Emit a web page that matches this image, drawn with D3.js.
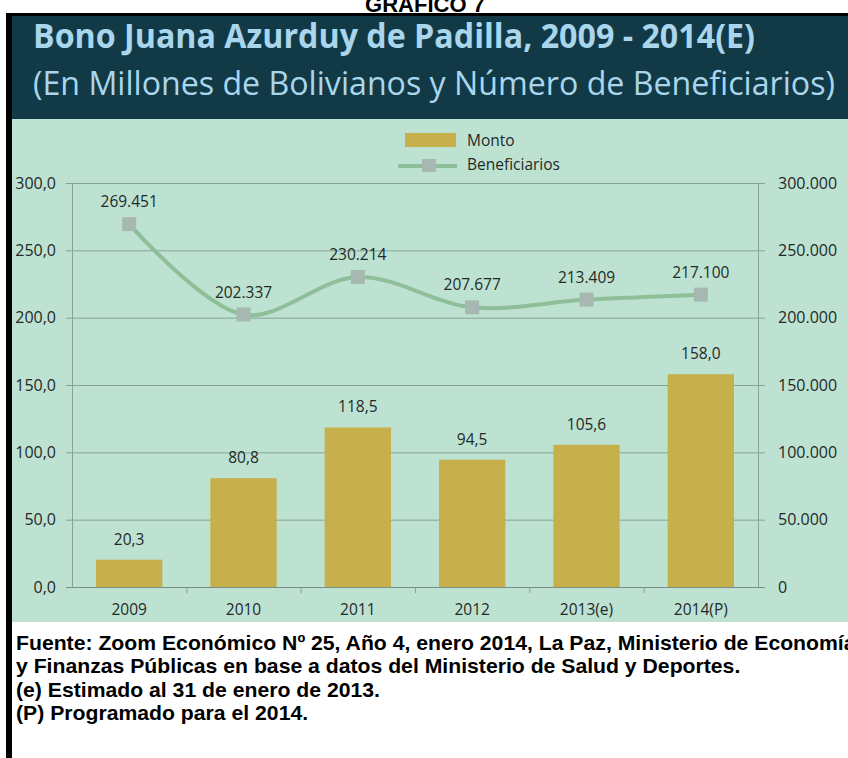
<!DOCTYPE html>
<html><head><meta charset="utf-8">
<script src="https://cdn.jsdelivr.net/npm/d3@7"></script>
<style>html,body{margin:0;padding:0;background:#fff;}svg{display:block;}</style>
</head><body>
<script>
const categories = ["2009","2010","2011","2012","2013(e)","2014(P)"];
const monto = [20.3, 80.8, 118.5, 94.5, 105.6, 158.0];
const beneficiarios = [269451, 202337, 230214, 207677, 213409, 217100];
const leftTicks = [0,50,100,150,200,250,300];
const rightTicks = [0,50000,100000,150000,200000,250000,300000];
const footnotes = [
  "Fuente: Zoom Económico Nº 25, Año 4, enero 2014, La Paz, Ministerio de Economía",
  "y Finanzas Públicas en base a datos del Ministerio de Salud y Deportes.",
  "(e) Estimado al 31 de enero de 2013.",
  "(P) Programado para el 2014."
];

const W = 848, H = 758;
const svg = d3.select("body").append("svg").attr("width", W).attr("height", H);

// backgrounds
svg.append("rect").attr("x",0).attr("y",0).attr("width",W).attr("height",H).attr("fill","#fff");
svg.append("rect").attr("x",12).attr("y",16).attr("width",W-12).attr("height",103).attr("fill","#123a46");
svg.append("rect").attr("x",12).attr("y",119).attr("width",W-12).attr("height",503).attr("fill","#bee2d2");

// top cut title
svg.append("text").attr("x",425).attr("y",12).attr("text-anchor","middle")
  .attr("font-family","Liberation Sans, Arial").attr("font-weight","bold").attr("font-size",22)
  .text("GRAFICO 7");

// header titles
svg.append("text").attr("x",33).attr("y",48)
  .attr("font-family","Open Sans").attr("font-weight","bold").attr("font-size",34)
  .attr("fill","#a9d6ec").attr("textLength",722).attr("lengthAdjust","spacingAndGlyphs")
  .text("Bono Juana Azurduy de Padilla, 2009 - 2014(E)");
svg.append("text").attr("x",33).attr("y",95)
  .attr("font-family","Open Sans").attr("font-size",33)
  .attr("fill","#a9d6ec").attr("textLength",802).attr("lengthAdjust","spacingAndGlyphs")
  .text("(En Millones de Bolivianos y Número de Beneficiarios)");

// scales
const x0 = 72, x1 = 758, yTop = 183, yBot = 587;
const x = d3.scaleBand().domain(categories).range([x0, x1]).paddingInner(0.42).paddingOuter(0.21);
const xc = d3.scaleBand().domain(categories).range([x0, x1]);
const yL = d3.scaleLinear().domain([0,300]).range([yBot, yTop]);
const yR = d3.scaleLinear().domain([0,300000]).range([yBot, yTop]);

const gridColor = "#86a396";
const txtColor = "#1e2a28";
// gridlines
svg.append("g").selectAll("line").data(leftTicks).join("line")
  .attr("x1", x0-6).attr("x2", x1+7)
  .attr("y1", d=>yL(d)+0.5).attr("y2", d=>yL(d)+0.5)
  .attr("stroke", gridColor).attr("stroke-width",1);
// axis lines
svg.append("line").attr("x1",x0+0.5).attr("x2",x0+0.5).attr("y1",yTop).attr("y2",yBot+1).attr("stroke",gridColor);
svg.append("line").attr("x1",x1+0.5).attr("x2",x1+0.5).attr("y1",yTop).attr("y2",yBot+1).attr("stroke",gridColor);

const fmtL = d3.formatLocale({decimal:",", thousands:".", grouping:[3]});
// left axis labels
svg.append("g").selectAll("text").data(leftTicks).join("text")
  .attr("x", 56).attr("y", d=>yL(d)+5.5).attr("text-anchor","end")
  .attr("font-family","Open Sans").attr("font-size",16).attr("fill",txtColor)
  .text(d=>fmtL.format(".1f")(d));
// right axis labels
svg.append("g").selectAll("text").data(rightTicks).join("text")
  .attr("x", 778).attr("y", d=>yR(d)+5.5).attr("text-anchor","start")
  .attr("font-family","Open Sans").attr("font-size",16).attr("fill",txtColor)
  .text(d=>fmtL.format(",.0f")(d));

// bars
svg.append("g").selectAll("rect").data(monto).join("rect")
  .attr("x",(d,i)=>x(categories[i])).attr("width",x.bandwidth())
  .attr("y",d=>yL(d)).attr("height",d=>yBot-yL(d))
  .attr("fill","#c5b04b");

// x axis bottom ticks
svg.append("g").selectAll("line").data(categories.slice(1)).join("line")
  .attr("x1",d=>xc(d)+0.5).attr("x2",d=>xc(d)+0.5).attr("y1",yBot).attr("y2",yBot+6)
  .attr("stroke",gridColor);
svg.append("line").attr("x1",x0-6).attr("x2",x1+7).attr("y1",yBot+0.5).attr("y2",yBot+0.5).attr("stroke","#7b8f87");

// x labels
svg.append("g").selectAll("text").data(categories).join("text")
  .attr("x",d=>xc(d)+xc.bandwidth()/2).attr("y",615).attr("text-anchor","middle")
  .attr("font-family","Open Sans").attr("font-size",15.5).attr("fill",txtColor)
  .text(d=>d);

// bar labels
svg.append("g").selectAll("text").data(monto).join("text")
  .attr("x",(d,i)=>xc(categories[i])+xc.bandwidth()/2).attr("y",d=>yL(d)-15)
  .attr("text-anchor","middle").attr("font-family","Open Sans").attr("font-size",15.5).attr("fill",txtColor)
  .text(d=>fmtL.format(".1f")(d));

// line
const pts = beneficiarios.map((d,i)=>[xc(categories[i])+xc.bandwidth()/2, yR(d)]);
svg.append("path").attr("d", d3.line().curve(d3.curveCatmullRom.alpha(0.5))(pts))
  .attr("fill","none").attr("stroke","#8fbf98").attr("stroke-width",4);
svg.append("g").selectAll("rect").data(pts).join("rect")
  .attr("x",d=>d[0]-7).attr("y",d=>d[1]-7).attr("width",14).attr("height",14)
  .attr("fill","#a6b8b1");
svg.append("g").selectAll("text").data(beneficiarios).join("text")
  .attr("x",(d,i)=>pts[i][0]).attr("y",d=>yR(d)-17)
  .attr("text-anchor","middle").attr("font-family","Open Sans").attr("font-size",15.5).attr("fill",txtColor)
  .text(d=>fmtL.format(",.0f")(d));

// legend
svg.append("rect").attr("x",405).attr("y",133).attr("width",51).attr("height",14).attr("fill","#c5b04b");
svg.append("text").attr("x",467).attr("y",146).attr("font-family","Open Sans").attr("font-size",15.5).attr("fill",txtColor).text("Monto");
svg.append("line").attr("x1",398).attr("x2",457).attr("y1",166).attr("y2",166).attr("stroke","#8fbf98").attr("stroke-width",4);
svg.append("rect").attr("x",422).attr("y",159).attr("width",14).attr("height",13).attr("fill","#a6b8b1");
svg.append("text").attr("x",467).attr("y",170).attr("font-family","Open Sans").attr("font-size",15.5).attr("fill",txtColor).text("Beneficiarios");

// footnotes: uniform horizontal compression so the first line reaches the right edge
const ft = svg.append("g").selectAll("text").data(footnotes).join("text")
  .attr("x",16).attr("y",(d,i)=>650+i*23.5)
  .attr("font-family","Liberation Sans, Arial").attr("font-weight","bold").attr("font-size",20.5).attr("fill","#000")
  .text(d=>d);
const w1 = ft.nodes()[0].getComputedTextLength();
const sx = 840 / w1;
ft.attr("transform",`translate(16,0) scale(${sx},1) translate(-16,0)`);

// black frame
svg.append("rect").attr("x",6).attr("y",14).attr("width",6).attr("height",H-14).attr("fill","#000");
svg.append("rect").attr("x",6).attr("y",13).attr("width",W-6).attr("height",3).attr("fill","#000");
</script>
</body></html>
